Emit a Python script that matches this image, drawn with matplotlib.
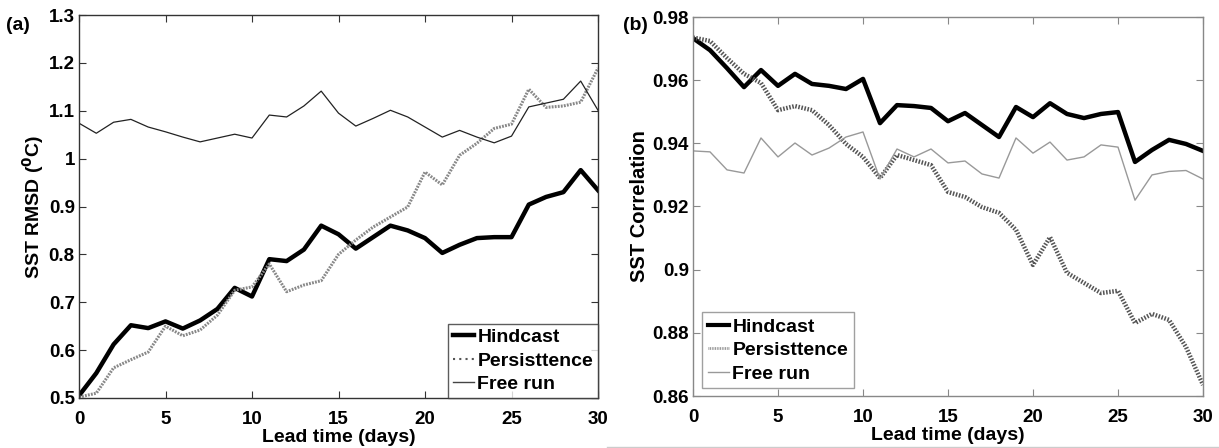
import numpy as np
import matplotlib
matplotlib.use("Agg")
import matplotlib.pyplot as plt
from matplotlib.lines import Line2D

plt.rcParams['font.family'] = ['Liberation Sans', 'DejaVu Sans']
plt.rcParams['font.weight'] = 'bold'

# lead time in days
days = np.arange(0, 31)

# (a) SST RMSD (deg C)
rmsd_hindcast = [0.505, 0.552, 0.612, 0.652, 0.646, 0.660, 0.645, 0.662, 0.686, 0.730, 0.712,
                 0.790, 0.786, 0.810, 0.860, 0.842, 0.812, 0.836, 0.860, 0.850, 0.834,
                 0.803, 0.820, 0.834, 0.836, 0.836, 0.904, 0.920, 0.930, 0.976, 0.934]
rmsd_persist = [0.502, 0.510, 0.563, 0.580, 0.596, 0.650, 0.630, 0.642, 0.673, 0.725, 0.732,
                0.780, 0.722, 0.736, 0.745, 0.800, 0.830, 0.857, 0.878, 0.899, 0.972,
                0.945, 1.007, 1.032, 1.063, 1.072, 1.145, 1.107, 1.110, 1.118, 1.189]
rmsd_free = [1.074, 1.053, 1.076, 1.082, 1.066, 1.056, 1.045, 1.035, 1.043, 1.051, 1.043,
             1.091, 1.087, 1.110, 1.141, 1.095, 1.068, 1.084, 1.101, 1.087, 1.066,
             1.045, 1.059, 1.045, 1.033, 1.047, 1.108, 1.116, 1.124, 1.162, 1.101]

# (b) SST correlation
corr_hindcast = [0.9733, 0.9695, 0.9638, 0.9578, 0.9632, 0.9582, 0.9620, 0.9588, 0.9582, 0.9572, 0.9604,
                 0.9464, 0.9521, 0.9518, 0.9512, 0.9470, 0.9496, 0.9458, 0.9420, 0.9515, 0.9483,
                 0.9527, 0.9493, 0.9480, 0.9493, 0.9499, 0.9341, 0.9379, 0.9411, 0.9398, 0.9376]
corr_persist = [0.9735, 0.9724, 0.9670, 0.9620, 0.9591, 0.9505, 0.9518, 0.9505, 0.9458, 0.9398, 0.9357,
                0.9290, 0.9363, 0.9347, 0.9331, 0.9246, 0.9230, 0.9198, 0.9180, 0.9126, 0.9015,
                0.9103, 0.8990, 0.8958, 0.8926, 0.8933, 0.8831, 0.8860, 0.8841, 0.8755, 0.8635]
corr_free = [0.9376, 0.9373, 0.9316, 0.9306, 0.9417, 0.9357, 0.9401, 0.9363, 0.9385, 0.9420, 0.9436,
             0.9287, 0.9382, 0.9357, 0.9382, 0.9338, 0.9344, 0.9303, 0.9290, 0.9417, 0.9369,
             0.9404, 0.9347, 0.9357, 0.9395, 0.9388, 0.9220, 0.9300, 0.9311, 0.9314, 0.9287]

labels = ['Hindcast', 'Persisttence', 'Free run']

W, H = 1219, 448
fig = plt.figure(figsize=(W/100, H/100), dpi=100)

def box(l, r, t, b):
    return [l/W, 1-b/H, (r-l)/W, (b-t)/H]

def style_ax(ax, edge):
    ax.tick_params(direction='in', length=5, top=True, right=True, labelsize=13.5,
                   color=edge)
    ax.tick_params(axis='x', pad=9)
    ax.tick_params(axis='y', pad=3)
    for s in ax.spines.values():
        s.set_color(edge)
        s.set_linewidth(1.0)
    ax.set_xlim(0, 30)
    ax.set_xticks([0, 5, 10, 15, 20, 25, 30])
    for lab in ax.get_xticklabels() + ax.get_yticklabels():
        lab.set_fontweight('bold')

# ---- panel (a)
ax1 = fig.add_axes(box(79, 598, 15, 398))
ax1.plot(days, rmsd_hindcast, color='black', lw=3.2, label=labels[0])
ax1.plot(days, rmsd_persist, color='#888888', lw=2.2, ls=(0, (0.6, 0.4)), label=labels[1])
ax1.plot(days, rmsd_free, color='#222222', lw=0.9, label=labels[2])
ax1.set_ylim(0.5, 1.3)
ax1.set_yticks([0.5, 0.6, 0.7, 0.8, 0.9, 1.0, 1.1, 1.2, 1.3])
ax1.set_yticklabels(['0.5', '0.6', '0.7', '0.8', '0.9', '1', '1.1', '1.2', '1.3'])
style_ax(ax1, '#333333')
ax1.set_ylabel('SST RMSD ($\\mathbf{^{0}}$C)', fontsize=14, fontweight='bold', labelpad=2)
ax1.set_xlabel('Lead time (days)', fontsize=14, fontweight='bold', labelpad=1)
h = [Line2D([], [], color='black', lw=3.2),
     Line2D([], [], color='#555555', lw=1.5, ls=(0, (1, 2))),
     Line2D([], [], color='#444444', lw=1.0)]
leg1 = ax1.legend(h, labels, loc='lower right', bbox_to_anchor=(1.0, 0.0), fontsize=14,
                  frameon=True, fancybox=False, borderaxespad=0, handlelength=1.1,
                  handletextpad=0.15, labelspacing=0.3, borderpad=0.25)
leg1.get_frame().set_edgecolor('#333333')
for t in leg1.get_texts():
    t.set_fontweight('bold')
fig.text(6/W, 1-25/H, '(a)', fontsize=14, fontweight='bold', va='center', ha='left')

# ---- panel (b)
ax2 = fig.add_axes(box(693, 1203, 17, 396))
ax2.plot(days, corr_hindcast, color='black', lw=3.2, label=labels[0])
ax2.plot(days, corr_persist, color='#555555', lw=3.2, ls=(0, (0.35, 0.35)), label=labels[1])
ax2.plot(days, corr_free, color='#999999', lw=1.0, label=labels[2])
ax2.set_ylim(0.86, 0.98)
ax2.set_yticks([0.86, 0.88, 0.9, 0.92, 0.94, 0.96, 0.98])
ax2.set_yticklabels(['0.86', '0.88', '0.9', '0.92', '0.94', '0.96', '0.98'])
style_ax(ax2, '#888888')
ax2.set_ylabel('SST Correlation', fontsize=14.5, fontweight='bold', labelpad=2)
ax2.set_xlabel('Lead time (days)', fontsize=14, fontweight='bold', labelpad=1)
h2 = [Line2D([], [], color='black', lw=3.0),
      Line2D([], [], color='#888888', lw=2.0, ls=(0, (0.3, 0.3))),
      Line2D([], [], color='#999999', lw=1.0)]
leg2 = ax2.legend(h2, labels, loc='lower left', bbox_to_anchor=(0.018, 0.02), fontsize=14,
                  frameon=True, fancybox=False, borderaxespad=0, handlelength=1.1,
                  handletextpad=0.15, labelspacing=0.3, borderpad=0.3)
leg2.get_frame().set_edgecolor('#888888')
for t in leg2.get_texts():
    t.set_fontweight('bold')
fig.text(623/W, 1-25/H, '(b)', fontsize=14, fontweight='bold', va='center', ha='left')

# thin frame line below panel (b)
fig.add_artist(Line2D([607/W, 1], [1-447/H, 1-447/H], color='#cccccc', lw=1))

fig.savefig('out.png', dpi=100)
